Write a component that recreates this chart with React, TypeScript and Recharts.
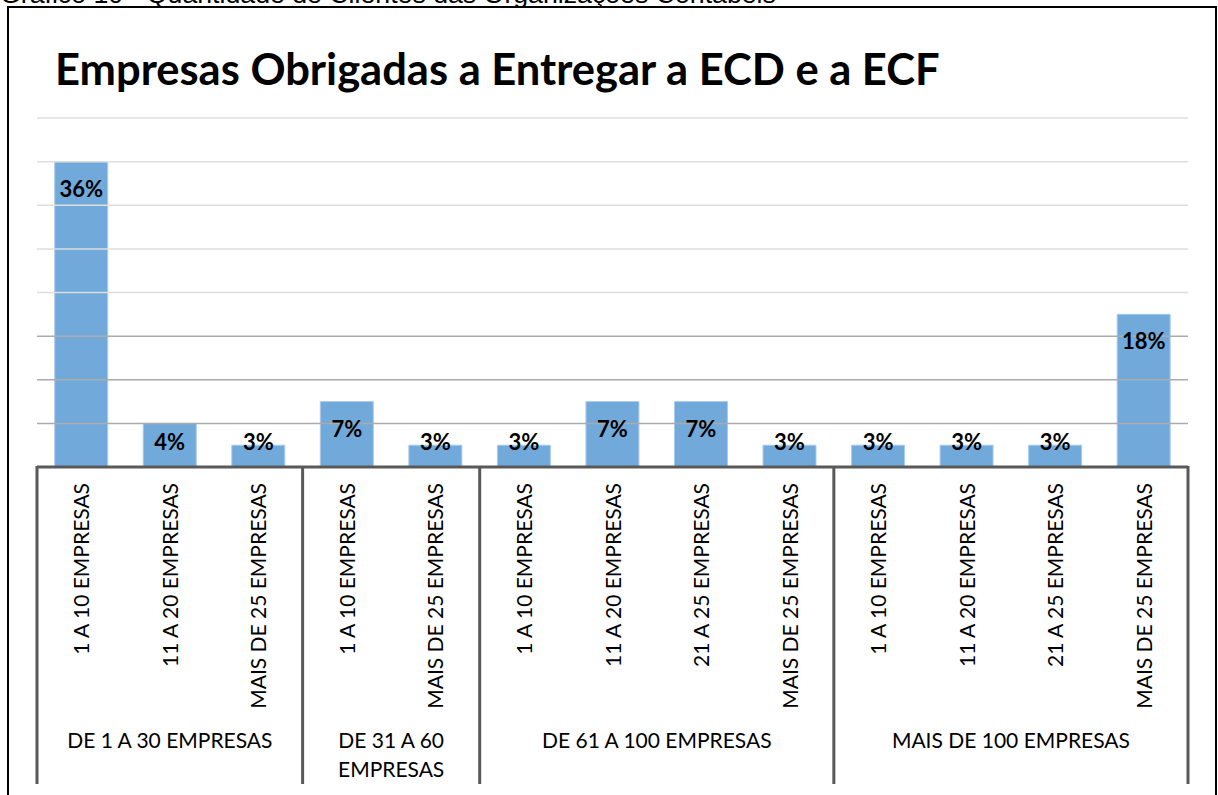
import { BarChart, Bar, XAxis, YAxis, ReferenceLine, LabelList } from 'recharts'

// ─── Data ────────────────────────────────────────────────────────────────────
const categories = [
  '1 A 10 EMPRESAS', '11 A 20 EMPRESAS', 'MAIS DE 25 EMPRESAS',
  '1 A 10 EMPRESAS', 'MAIS DE 25 EMPRESAS',
  '1 A 10 EMPRESAS', '11 A 20 EMPRESAS', '21 A 25 EMPRESAS', 'MAIS DE 25 EMPRESAS',
  '1 A 10 EMPRESAS', '11 A 20 EMPRESAS', '21 A 25 EMPRESAS', 'MAIS DE 25 EMPRESAS',
]
// bar heights (number of respondents) and the percent shown on each bar
const values = [14, 2, 1, 3, 1, 1, 3, 3, 1, 1, 1, 1, 7]
const percentLabels = ['36%', '4%', '3%', '7%', '3%', '3%', '7%', '7%', '3%', '3%', '3%', '3%', '18%']
const groupLabels = [
  ['DE 1 A 30 EMPRESAS'],
  ['DE 31 A 60', 'EMPRESAS'],
  ['DE 61 A 100 EMPRESAS'],
  ['MAIS DE 100 EMPRESAS'],
]
const groupSizes = [3, 2, 4, 4]
const gridValues = [2, 4, 6, 8, 10, 12, 14, 16]

const TITLE = 'Empresas Obrigadas a Entregar a ECD e a ECF'
const CAPTION = 'Gráfico 10 - Quantidade de Clientes das Organizações Contábeis'

// ─── Layout ──────────────────────────────────────────────────────────────────
const W = 1218
const H = 795
const MARGIN = { top: 118, right: 30, bottom: 0, left: 37 }
const AXIS_H = 328
const BAND = (W - MARGIN.left - MARGIN.right) / categories.length
const FONT = 'Lato, "Open Sans", sans-serif'

const data = categories.map((name, i) => ({ id: i, name, value: values[i], label: percentLabels[i] }))

const groupStart: Record<number, number> = {}
{
  let s = 0
  groupSizes.forEach((n, g) => { groupStart[s] = g; s += n })
}

// ─── Multi-level category tick ───────────────────────────────────────────────
function CategoryTick({ x, y, payload }: any) {
  const i = payload.index
  const g = groupStart[i]
  const sepColor = '#595959'
  return (
    <g>
      <text
        transform={`translate(${x + 8},${y + 16}) rotate(-90)`}
        textAnchor="end"
        fontFamily={FONT}
        fontSize={21}
        fill="#000"
      >
        {categories[i]}
      </text>
      {g !== undefined && (
        <g>
          <line x1={x - BAND / 2} x2={x - BAND / 2} y1={y - 1} y2={y + 317} stroke={sepColor} strokeWidth={3} />
          {groupLabels[g].map((ln, k) => (
            <text
              key={k}
              x={x + ((groupSizes[g] - 1) * BAND) / 2}
              y={y + 281 + k * 29}
              textAnchor="middle"
              fontFamily={FONT}
              fontSize={21}
              fill="#000"
            >
              {ln}
            </text>
          ))}
        </g>
      )}
      {i === categories.length - 1 && (
        <line x1={x + BAND / 2} x2={x + BAND / 2} y1={y - 1} y2={y + 317} stroke={sepColor} strokeWidth={3} />
      )}
    </g>
  )
}

function PercentLabel({ x, y, width, height, index }: any) {
  const cy = Math.min(y + 27, y + height - 25)
  return (
    <text x={x + width / 2} y={cy + 8} textAnchor="middle" fontFamily={FONT} fontWeight={700} fontSize={22} fill="#000">
      {percentLabels[index]}
    </text>
  )
}

export default function App() {
  return (
    <div style={{ position: 'absolute', left: 0, top: 0, width: W, height: H, overflow: 'hidden', background: '#fff' }}>
      <div style={{ position: 'absolute', left: 7, top: 6, width: 1206, height: 820, border: '2px solid #000' }} />
      <BarChart
        width={W}
        height={H}
        data={data}
        margin={MARGIN}
        barCategoryGap="20%"
        style={{ position: 'absolute', left: 0, top: 0 }}
      >
        <YAxis hide domain={[0, 16]} />
        {gridValues.map(v => (
          <ReferenceLine key={v} y={v} stroke={v <= 6 ? '#ABABAB' : '#DEDEDE'} strokeWidth={1.5} />
        ))}
        <XAxis
          dataKey="id"
          height={AXIS_H}
          interval={0}
          tickLine={false}
          tickSize={0}
          tickMargin={0}
          axisLine={{ stroke: '#595959', strokeWidth: 3 }}
          tick={<CategoryTick />}
        />
        <Bar dataKey="value" fill="#5B9BD5" fillOpacity={0.86} stroke="#A9CBEA" strokeWidth={1} isAnimationActive={false}>
          <LabelList dataKey="label" content={<PercentLabel />} />
        </Bar>
      </BarChart>
      <svg width={W} height={H} style={{ position: 'absolute', left: 0, top: 0, pointerEvents: 'none' }}>
        <text x={0} y={3} fontFamily='"Liberation Sans", Arial, sans-serif' fontSize={26.7} fill="#000">
          {CAPTION}
        </text>
        <text x={55} y={85} fontFamily={FONT} fontWeight={700} fontSize={43.5} fill="#000">
          {TITLE}
        </text>
      </svg>
    </div>
  )
}
